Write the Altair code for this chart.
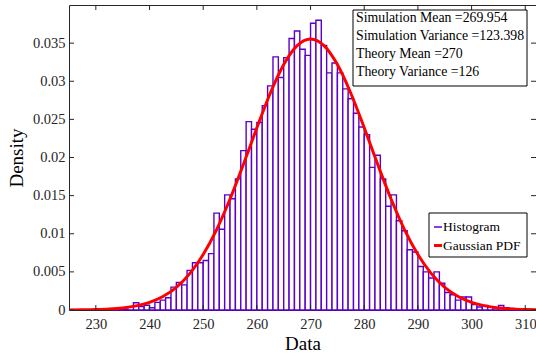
import altair as alt
import pandas as pd

# ---- data ----
bin_starts = list(range(233, 310))
densities = [
    0.0, 0.0001, 0.0001, 0.0, 0.00096, 0.00044, 0.00063, 0.0003, 0.0010, 0.0013,   # 233-242
    0.0016, 0.0030, 0.0036, 0.0033, 0.0052, 0.0062, 0.0062, 0.0065, 0.0074, 0.0127,  # 243-252
    0.0106, 0.0151, 0.0146, 0.0172, 0.0209, 0.0247, 0.0237, 0.0246, 0.0268, 0.0294,  # 253-262
    0.0332, 0.0305, 0.0331, 0.0356, 0.0366, 0.0342, 0.0334, 0.0376, 0.0380, 0.0347,  # 263-272
    0.0311, 0.0324, 0.0311, 0.0290, 0.0277, 0.0258, 0.0240, 0.0230, 0.0187, 0.0203,  # 273-282
    0.0172, 0.0136, 0.0151, 0.0117, 0.0104, 0.0079, 0.0076, 0.0057, 0.0050, 0.0042,  # 283-292
    0.0050, 0.0035, 0.0023, 0.0020, 0.0013, 0.0017, 0.0017, 0.0007, 0.0004, 0.0006,  # 293-302
    0.0004, 0.0003, 0.0006, 0.0003, 0.0002, 0.0001, 0.0001,                          # 303-309
]
pdf_x = [225, 227.5, 230, 232.5, 235, 237.5, 240, 242.5, 245, 247.5, 250, 252.5,
         255, 257.5, 260, 262.5, 265, 267.5, 270, 272.5, 275, 277.5, 280, 282.5,
         285, 287.5, 290, 292.5, 295, 297.5, 300, 302.5, 305, 307.5, 310, 312.5]
pdf_y = [0.0000115, 0.0000274, 0.0000621, 0.000134, 0.000275, 0.000538, 0.000999,
         0.001768, 0.002976, 0.004766, 0.007268, 0.010542, 0.014553, 0.019118,
         0.023899, 0.028430, 0.032184, 0.034670, 0.035540, 0.034670, 0.032184,
         0.028430, 0.023899, 0.019118, 0.014553, 0.010542, 0.007268, 0.004766,
         0.002976, 0.001768, 0.000999, 0.000538, 0.000275, 0.000134, 0.0000621,
         0.0000274]
x_ticks = [230, 240, 250, 260, 270, 280, 290, 300, 310]
y_ticks = [0, 0.005, 0.01, 0.015, 0.02, 0.025, 0.03, 0.035]
info_lines = ["Simulation Mean =269.954", "Simulation Variance =123.398",
              "Theory Mean =270", "Theory Variance =126"]
legend_labels = ["Histogram", "Gaussian PDF"]

PURPLE = "#5c00c8"
RED = "#ff0000"
AXC = "#262626"
FONT = "Liberation Serif"
W, H = 467, 305

xs = alt.Scale(domain=[225, 312], nice=False, zero=False)
ys = alt.Scale(domain=[0, 0.04], nice=False, zero=False)

hist_df = pd.DataFrame({"start": bin_starts,
                        "end": [s + 1 for s in bin_starts],
                        "density": densities,
                        "base": [0.0] * len(bin_starts)})
pdf_df = pd.DataFrame({"x": pdf_x, "y": pdf_y})
xt_df = pd.DataFrame({"t": x_ticks})
yt_df = pd.DataFrame({"t": y_ticks})
one = pd.DataFrame({"a": [0]})

xaxis = alt.Axis(values=x_ticks, tickSize=0, domain=False, grid=False,
                 labelFont=FONT, labelFontSize=14.5, labelColor=AXC, labelPadding=7,
                 title="Data", titleFont=FONT, titleFontSize=19,
                 titleFontWeight="normal", titleColor="black", titlePadding=4)
yaxis = alt.Axis(values=y_ticks, tickSize=0, domain=False, grid=False, format="~g",
                 labelFont=FONT, labelFontSize=14.5, labelColor=AXC, labelPadding=4,
                 title="Density", titleFont=FONT, titleFontSize=19,
                 titleFontWeight="normal", titleColor="black", titlePadding=6)

bars = alt.Chart(hist_df).mark_rect(fill="white", stroke=PURPLE, strokeWidth=1.4).encode(
    x=alt.X("start:Q", scale=xs, axis=xaxis),
    x2="end:Q",
    y=alt.Y("density:Q", scale=ys, axis=yaxis),
    y2="base:Q",
)

line = alt.Chart(pdf_df).mark_line(color=RED, strokeWidth=3, interpolate="monotone",
                                   clip=True).encode(
    x=alt.X("x:Q", scale=xs, axis=xaxis),
    y=alt.Y("y:Q", scale=ys, axis=yaxis),
)

# inward ticks on all four sides
xt_bottom = alt.Chart(xt_df).mark_rule(color=AXC, strokeWidth=1).encode(
    x=alt.X("t:Q", scale=xs, axis=xaxis), y=alt.value(H), y2=alt.value(H - 5))
xt_top = alt.Chart(xt_df).mark_rule(color=AXC, strokeWidth=1).encode(
    x=alt.X("t:Q", scale=xs, axis=xaxis), y=alt.value(0), y2=alt.value(5))
yt_left = alt.Chart(yt_df).mark_rule(color=AXC, strokeWidth=1).encode(
    y=alt.Y("t:Q", scale=ys, axis=yaxis), x=alt.value(0), x2=alt.value(5))
yt_right = alt.Chart(yt_df).mark_rule(color=AXC, strokeWidth=1).encode(
    y=alt.Y("t:Q", scale=ys, axis=yaxis), x=alt.value(W), x2=alt.value(W - 5))

# info box
info_box = alt.Chart(one).mark_rect(fill="white", stroke="black", strokeWidth=1).encode(
    x=alt.value(284), x2=alt.value(458), y=alt.value(5), y2=alt.value(81))
info_text = alt.Chart(one).mark_text(align="left", baseline="top", font=FONT,
                                     fontSize=13.8, lineHeight=18.3, color="black").encode(
    x=alt.value(287), y=alt.value(5.5), text=alt.value(info_lines))

# legend
leg_box = alt.Chart(one).mark_rect(fill="white", stroke="black", strokeWidth=1).encode(
    x=alt.value(360), x2=alt.value(458), y=alt.value(208), y2=alt.value(252))
leg_l1 = alt.Chart(one).mark_rule(color=PURPLE, strokeWidth=1.5).encode(
    x=alt.value(365), x2=alt.value(373), y=alt.value(222))
leg_l2 = alt.Chart(one).mark_rule(color=RED, strokeWidth=3).encode(
    x=alt.value(365), x2=alt.value(373), y=alt.value(240.5))
leg_t1 = alt.Chart(one).mark_text(align="left", baseline="middle", font=FONT,
                                  fontSize=13.5, color="black").encode(
    x=alt.value(374), y=alt.value(222), text=alt.value(legend_labels[0]))
leg_t2 = alt.Chart(one).mark_text(align="left", baseline="middle", font=FONT,
                                  fontSize=13.5, color="black").encode(
    x=alt.value(374), y=alt.value(240.5), text=alt.value(legend_labels[1]))

chart = alt.layer(
    bars, line, xt_bottom, xt_top, yt_left, yt_right,
    info_box, info_text, leg_box, leg_l1, leg_l2, leg_t1, leg_t2,
).properties(
    width=W, height=H,
    autosize=alt.AutoSizeParams(type="none"),
    padding={"left": 69, "top": 5, "right": 0, "bottom": 50},
    background="white",
).configure_view(
    stroke=AXC, strokeWidth=1
).configure_axis(
    labelFont=FONT, titleFont=FONT
)

chart.save("out.html", embed_options={"renderer": "svg", "actions": False})
